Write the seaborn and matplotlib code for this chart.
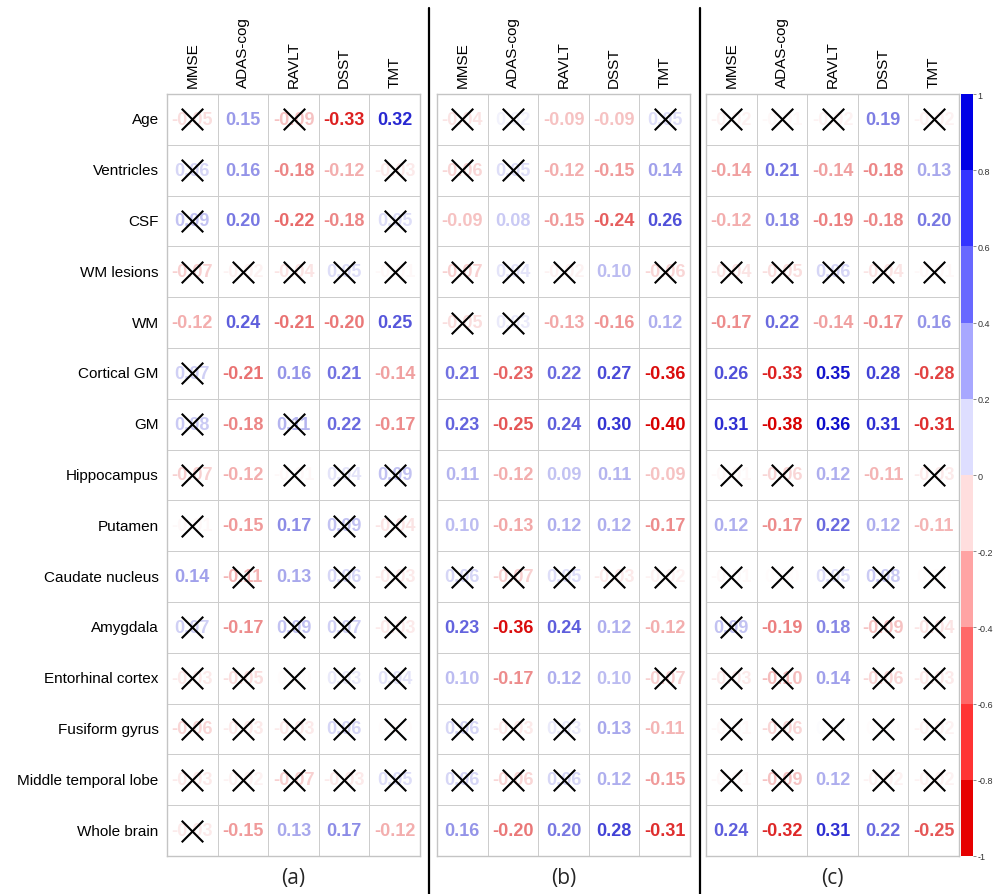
import numpy as np
import pandas as pd
import seaborn as sns
import matplotlib
matplotlib.use("Agg")
import matplotlib.pyplot as plt
from matplotlib.colors import LinearSegmentedColormap, ListedColormap, BoundaryNorm
from matplotlib.cm import ScalarMappable
from matplotlib.lines import Line2D

# ---- data -------------------------------------------------------------
regions = ["Age", "Ventricles", "CSF", "WM lesions", "WM", "Cortical GM", "GM",
           "Hippocampus", "Putamen", "Caudate nucleus", "Amygdala",
           "Entorhinal cortex", "Fusiform gyrus", "Middle temporal lobe",
           "Whole brain"]
tests = ["MMSE", "ADAS-cog", "RAVLT", "DSST", "TMT"]
panel_tags = ["(a)", "(b)", "(c)"]

corr_a = [
    [-0.05, 0.15, -0.09, -0.33, 0.32],
    [0.06, 0.16, -0.18, -0.12, -0.03],
    [0.09, 0.20, -0.22, -0.18, 0.05],
    [-0.07, -0.02, -0.04, 0.05, -0.01],
    [-0.12, 0.24, -0.21, -0.20, 0.25],
    [0.07, -0.21, 0.16, 0.21, -0.14],
    [0.08, -0.18, 0.11, 0.22, -0.17],
    [-0.07, -0.12, -0.01, 0.04, 0.09],
    [-0.01, -0.15, 0.17, 0.09, -0.04],
    [0.14, -0.11, 0.13, 0.06, -0.03],
    [0.07, -0.17, 0.09, 0.07, -0.03],
    [-0.03, -0.05, -0.004, 0.03, 0.04],
    [-0.06, -0.03, -0.03, 0.06, -0.004],
    [-0.03, -0.02, -0.07, -0.03, 0.05],
    [-0.03, -0.15, 0.13, 0.17, -0.12],
]
# 1 = not significant (crossed out)
ns_a = [
    [1, 0, 1, 0, 0],
    [1, 0, 0, 0, 1],
    [1, 0, 0, 0, 1],
    [1, 1, 1, 1, 1],
    [0, 0, 0, 0, 0],
    [1, 0, 0, 0, 0],
    [1, 0, 1, 0, 0],
    [1, 0, 1, 1, 1],
    [1, 0, 0, 1, 1],
    [0, 1, 0, 1, 1],
    [1, 0, 1, 1, 1],
    [1, 1, 1, 1, 1],
    [1, 1, 1, 1, 1],
    [1, 1, 1, 1, 1],
    [1, 0, 0, 0, 0],
]

corr_b = [
    [-0.04, 0.02, -0.09, -0.09, 0.05],
    [-0.06, 0.05, -0.12, -0.15, 0.14],
    [-0.09, 0.08, -0.15, -0.24, 0.26],
    [-0.07, 0.04, -0.02, 0.10, -0.06],
    [-0.05, 0.03, -0.13, -0.16, 0.12],
    [0.21, -0.23, 0.22, 0.27, -0.36],
    [0.23, -0.25, 0.24, 0.30, -0.40],
    [0.11, -0.12, 0.09, 0.11, -0.09],
    [0.10, -0.13, 0.12, 0.12, -0.17],
    [0.06, -0.07, 0.05, -0.03, -0.02],
    [0.23, -0.36, 0.24, 0.12, -0.12],
    [0.10, -0.17, 0.12, 0.10, -0.07],
    [0.06, -0.03, 0.03, 0.13, -0.11],
    [0.06, -0.06, 0.06, 0.12, -0.15],
    [0.16, -0.20, 0.20, 0.28, -0.31],
]
ns_b = [
    [1, 1, 0, 0, 1],
    [1, 1, 0, 0, 0],
    [0, 0, 0, 0, 0],
    [1, 1, 1, 0, 1],
    [1, 1, 0, 0, 0],
    [0, 0, 0, 0, 0],
    [0, 0, 0, 0, 0],
    [0, 0, 0, 0, 0],
    [0, 0, 0, 0, 0],
    [1, 1, 1, 1, 1],
    [0, 0, 0, 0, 0],
    [0, 0, 0, 0, 1],
    [1, 1, 1, 0, 0],
    [1, 1, 1, 0, 0],
    [0, 0, 0, 0, 0],
]

corr_c = [
    [-0.02, -0.01, -0.02, 0.19, -0.02],
    [-0.14, 0.21, -0.14, -0.18, 0.13],
    [-0.12, 0.18, -0.19, -0.18, 0.20],
    [-0.04, -0.05, 0.06, -0.04, -0.01],
    [-0.17, 0.22, -0.14, -0.17, 0.16],
    [0.26, -0.33, 0.35, 0.28, -0.28],
    [0.31, -0.38, 0.36, 0.31, -0.31],
    [-0.01, -0.06, 0.12, -0.11, -0.03],
    [0.12, -0.17, 0.22, 0.12, -0.11],
    [-0.01, -0.004, 0.05, 0.08, -0.004],
    [0.09, -0.19, 0.18, -0.09, -0.04],
    [-0.03, -0.10, 0.14, -0.06, -0.03],
    [-0.01, -0.06, 0.004, -0.004, -0.02],
    [-0.01, -0.09, 0.12, -0.02, -0.02],
    [0.24, -0.32, 0.31, 0.22, -0.25],
]
ns_c = [
    [1, 1, 1, 0, 1],
    [0, 0, 0, 0, 0],
    [0, 0, 0, 0, 0],
    [1, 1, 1, 1, 1],
    [0, 0, 0, 0, 0],
    [0, 0, 0, 0, 0],
    [0, 0, 0, 0, 0],
    [1, 1, 0, 0, 1],
    [0, 0, 0, 0, 0],
    [1, 1, 1, 1, 1],
    [1, 0, 0, 1, 1],
    [1, 1, 0, 1, 1],
    [1, 1, 1, 1, 1],
    [1, 1, 0, 1, 1],
    [0, 0, 0, 0, 0],
]

cbar_ticks = [-1, -0.8, -0.6, -0.4, -0.2, 0, 0.2, 0.4, 0.6, 0.8, 1]

# ---- styling ------------------------------------------------------------
sns.set_theme(style="white")
plt.rcParams["font.family"] = ["Liberation Sans", "DejaVu Sans"]

text_cmap = LinearSegmentedColormap.from_list(
    "txt", ["#d80000", "#ffffff", "#0000c8"])
text_lim = 0.38

bar_colors = ["#e60000", "#ff3434", "#ff6868", "#ffa4a4", "#ffdede",
              "#dedeff", "#a8a8ff", "#6868ff", "#3434ff", "#0000e6"]
bar_cmap = ListedColormap(bar_colors)
bar_norm = BoundaryNorm(np.linspace(-1, 1, 11), bar_cmap.N)

W, H = 996, 895
fig = plt.figure(figsize=(W / 100, H / 100), dpi=100)

panel_left = [167, 437, 706]
panel_w = 253
grid_top, grid_bot = 95, 857


def fmt(v):
    s = f"{v:.2f}"
    return "0.00" if s == "-0.00" else s


def draw_panel(ax, corr, ns, tag, show_rows):
    df = pd.DataFrame(corr, index=regions, columns=tests)
    labels = df.map(fmt)
    sns.heatmap(df, ax=ax, cmap=ListedColormap(["white"]), cbar=False,
                linewidths=0.6, linecolor="#cdcdcd",
                annot=labels, fmt="",
                annot_kws={"fontsize": 13, "fontweight": "bold"})
    vals = df.to_numpy()
    for t in ax.texts:
        x, y = t.get_position()
        v = vals[int(y), int(x)]
        t.set_color(text_cmap(0.5 + 0.5 * np.clip(v / text_lim, -1, 1)))

    flags = np.array(ns)
    rr, cc = np.nonzero(flags)
    ax.scatter(cc + 0.5, rr + 0.5, marker="x", s=240, c="black",
               linewidths=1.5, zorder=5)

    ax.xaxis.tick_top()
    ax.set_xticks(np.arange(len(tests)) + 0.5)
    ax.set_xticklabels(tests, rotation=90, fontsize=11, color="black")
    ax.tick_params(axis="x", length=0, pad=5)
    if show_rows:
        ax.set_yticks(np.arange(len(regions)) + 0.5)
        ax.set_yticklabels(regions, rotation=0, fontsize=11, color="black")
        ax.tick_params(axis="y", length=0, pad=6)
    else:
        ax.set_yticks([])
    ax.set_ylabel("")
    ax.xaxis.set_label_position("bottom")
    ax.set_xlabel(tag, fontsize=15, family="Open Sans", labelpad=8)
    for sp in ax.spines.values():
        sp.set_visible(True)
        sp.set_color("#c4c4c4")
        sp.set_linewidth(1.0)


for left, corr, ns, tag, rows in zip(panel_left, [corr_a, corr_b, corr_c],
                                     [ns_a, ns_b, ns_c], panel_tags,
                                     [True, False, False]):
    ax = fig.add_axes([left / W, 1 - grid_bot / H, panel_w / W,
                       (grid_bot - grid_top) / H])
    draw_panel(ax, corr, ns, tag, rows)

# colour key
cax = fig.add_axes([961 / W, 1 - grid_bot / H, 12 / W, (grid_bot - grid_top) / H])
cb = fig.colorbar(ScalarMappable(norm=bar_norm, cmap=bar_cmap), cax=cax,
                  ticks=cbar_ticks, spacing="proportional")
cb.outline.set_visible(False)
cb.ax.set_yticklabels([f"{t:g}" for t in cbar_ticks])
cb.ax.tick_params(labelsize=6.5, length=2, width=0.6, color="#777777",
                  labelcolor="#333333", pad=1)

# panel separators
for xs in (429, 700):
    fig.add_artist(Line2D([xs / W, xs / W], [0, 1 - 9 / H],
                          transform=fig.transFigure, color="black", lw=1.6))

fig.savefig("out.png", dpi=100)
